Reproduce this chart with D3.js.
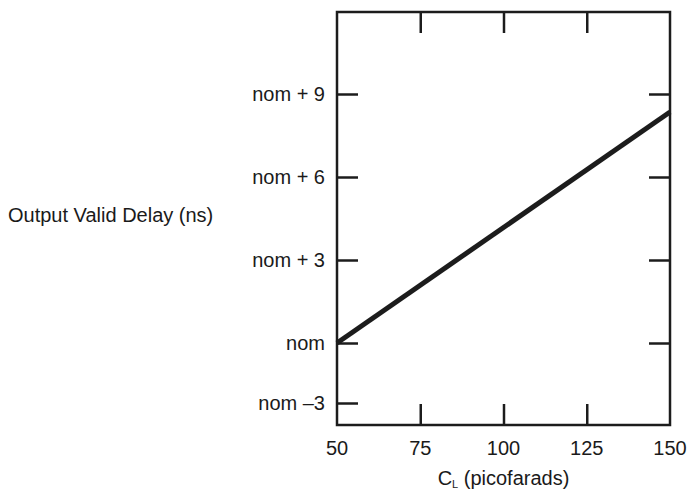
<!DOCTYPE html>
<html>
<head>
<meta charset="utf-8">
<script src="https://cdn.jsdelivr.net/npm/d3@7"></script>
<style>
  body { margin: 0; background: #fff; }
  text { font-family: "Liberation Sans", Arial, Helvetica, sans-serif; fill: #1a1a1a; }
</style>
</head>
<body>
<script>
// chart data
const capValues = [50, 75, 100, 125, 150];          // x ticks (pF)
const delayTicks = [-3, 0, 3, 6, 9];                 // y ticks, ns relative to nom
const delayTickLabels = ["nom \u20133", "nom", "nom + 3", "nom + 6", "nom + 9"];
const rightTicks = [0, 3, 6, 9];
const lineCap = [50, 150];
const lineDelay = [0, 8.35];

const width = 691, height = 489;
const ink = "#1c1c1c";
const fontSize = "20px";

const svg = d3.select("body")
  .append("svg")
    .attr("width", width)
    .attr("height", height);

// x scale: plot box spans 50..150
const x = d3.scaleLinear()
  .domain([50, 150])
  .range([337, 670]);

// y scale: the printed axis is not evenly spaced below nom, so piecewise
const y = d3.scaleLinear()
  .domain([-4.1, -3, 0, 9, 12])
  .range([425, 403, 343, 94, 12]);

const x0 = x.range()[0], x1 = x.range()[1];
const yBot = y(-4.1), yTop = y(12);
const tickLen = 21;

// box
svg.append("rect")
  .attr("x", x0)
  .attr("y", yTop)
  .attr("width", x1 - x0)
  .attr("height", yBot - yTop)
  .attr("fill", "none")
  .attr("stroke", ink)
  .attr("stroke-width", 2.5);

function inwardTicks(axis, tx, ty) {
  svg.append("g")
    .attr("transform", `translate(${tx},${ty})`)
    .call(axis.tickSize(tickLen).tickFormat(""))
    .call(g => g.select(".domain").remove())
    .selectAll("line")
      .attr("stroke", ink)
      .attr("stroke-width", 2.5);
}

inwardTicks(d3.axisRight(y).tickValues(delayTicks), x0, 0);
inwardTicks(d3.axisLeft(y).tickValues(rightTicks), x1, 0);
inwardTicks(d3.axisTop(x).tickValues(capValues.slice(1, -1)), 0, yBot);
inwardTicks(d3.axisBottom(x).tickValues(capValues.slice(1, -1)), 0, yTop);

svg.selectAll(".ylabel")
  .data(delayTicks)
  .enter()
  .append("text")
    .attr("class", "ylabel")
    .attr("x", 325)
    .attr("y", d => y(d))
    .attr("dy", "0.35em")
    .attr("text-anchor", "end")
    .style("font-size", fontSize)
    .text((d, i) => delayTickLabels[i]);

svg.selectAll(".xlabel")
  .data(capValues)
  .enter()
  .append("text")
    .attr("class", "xlabel")
    .attr("x", d => x(d))
    .attr("y", 455)
    .attr("text-anchor", "middle")
    .style("font-size", fontSize)
    .text(d => d);

// the delay line
const line = d3.line()
  .x(d => x(d[0]))
  .y(d => y(d[1]));

svg.append("path")
  .datum(lineCap.map((c, i) => [c, lineDelay[i]]))
  .attr("d", line)
  .attr("fill", "none")
  .attr("stroke", ink)
  .attr("stroke-width", 5);

// axis titles
const xt = svg.append("text")
  .attr("x", x(100))
  .attr("y", 485)
  .attr("text-anchor", "middle")
  .style("font-size", fontSize);
xt.append("tspan").text("C");
xt.append("tspan").attr("dy", 3).style("font-size", "11px").text("L");
xt.append("tspan").attr("dy", -3).text(" (picofarads)");

svg.append("text")
  .attr("x", 8)
  .attr("y", 222)
  .style("font-size", fontSize)
  .text("Output Valid Delay (ns)");
</script>
</body>
</html>
